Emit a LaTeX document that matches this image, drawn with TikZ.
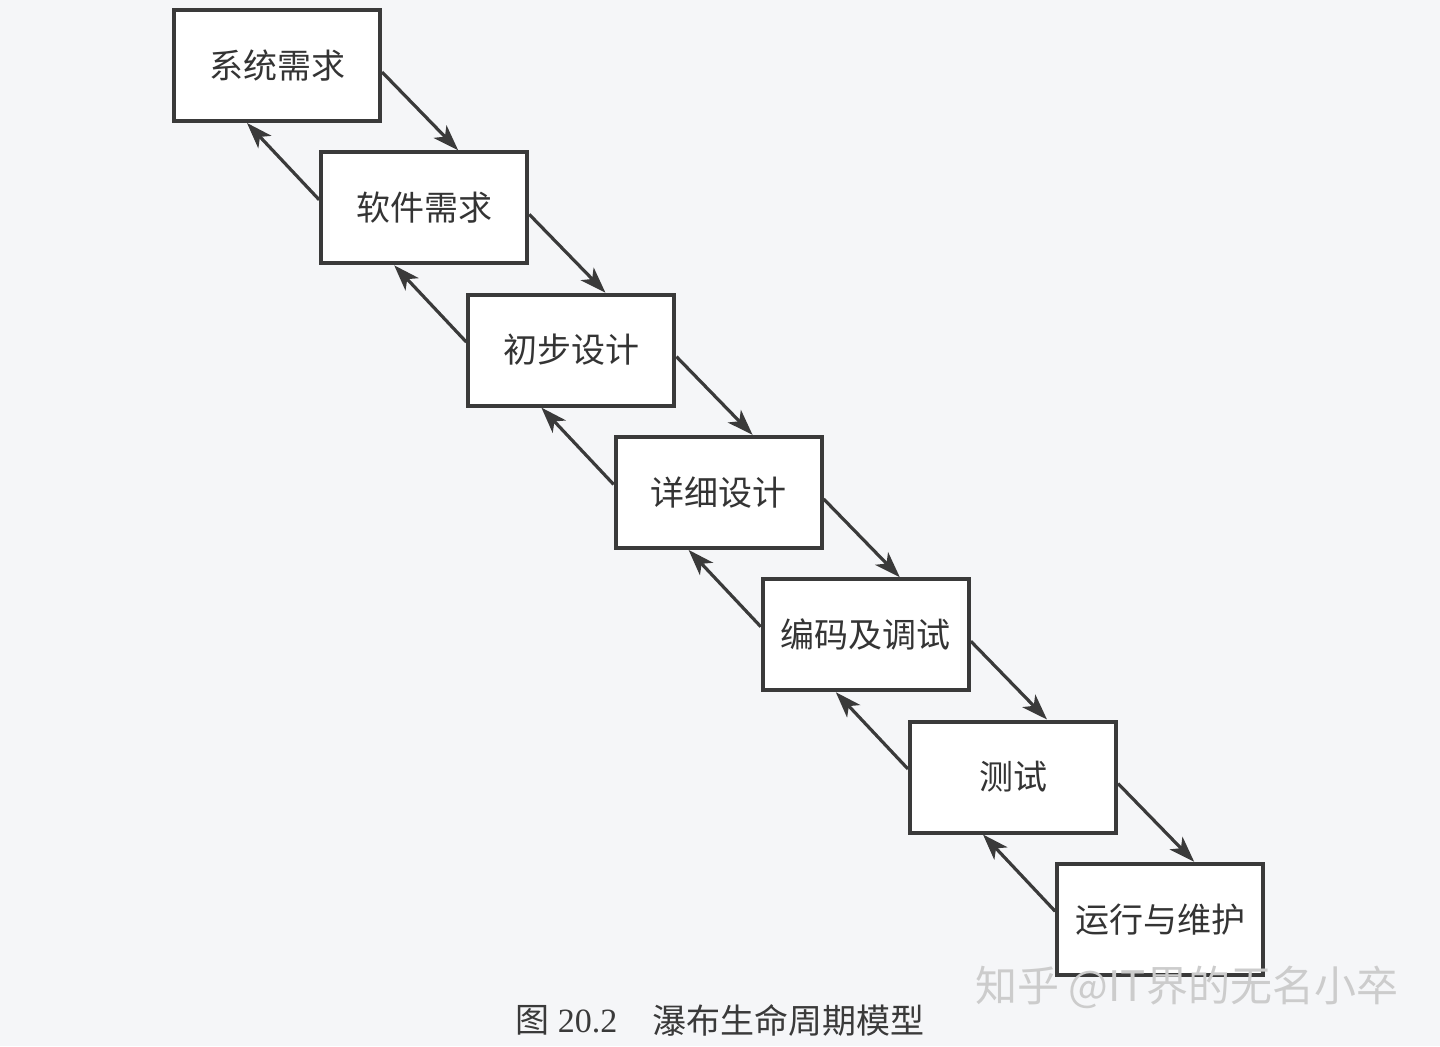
\documentclass[tikz,border=0pt]{standalone}
\usepackage{fontspec}
\setmainfont{Liberation Serif}
\newfontfamily\cjk{Noto Sans CJK SC}
\usetikzlibrary{arrows.meta}
\definecolor{bg}{HTML}{F5F6F8}
\definecolor{ink}{HTML}{3A3A3A}
\begin{document}
\begin{tikzpicture}[x=0.5pt,y=-0.5pt,
  stage/.style={draw=ink, line width=2pt, fill=white, minimum width=103pt, minimum height=55.5pt, inner sep=0pt, font=\cjk\fontsize{17}{19}\selectfont, text=ink!90!black},
  flow/.style={draw=ink, line width=1.6pt, -{Stealth[length=13pt,width=9pt,inset=3.5pt]}},
  captext/.style={text=ink, inner sep=0pt}
]
\useasboundingbox[fill=bg] (0,0) rectangle (1440,1046);
\node[stage] (b1) at (277,65.5) {系统需求};
\node[stage] (b2) at (424.2,207.8) {软件需求};
\node[stage] (b3) at (571.4,350.1) {初步设计};
\node[stage] (b4) at (718.6,492.4) {详细设计};
\node[stage] (b5) at (865.8,634.7) {编码及调试};
\node[stage] (b6) at (1013,777) {测试};
\node[stage] (b7) at (1160.2,919.3) {运行与维护};
\foreach \a/\b in {b1/b2,b2/b3,b3/b4,b4/b5,b5/b6,b6/b7}{
  \draw[flow] ([yshift=-3.25pt]\a.east) -- ([xshift=17pt]\b.north);
  \draw[flow] ([yshift=4pt]\b.west) -- ([xshift=-15pt]\a.south);
}
\node[captext, anchor=west, font=\fontsize{17}{19}\selectfont] (c1) at (515,1020) {{\cjk 图} 20.2};
\node[captext, anchor=west, font=\cjk\fontsize{17}{19}\selectfont] (c2) at (652,1020) {瀑布生命周期模型};
\node[anchor=west, inner sep=0pt, text=gray!40, font=\cjk\fontsize{21}{23}\selectfont] (wm) at (975,987) {知乎 @IT界的无名小卒};
\end{tikzpicture}
\end{document}
